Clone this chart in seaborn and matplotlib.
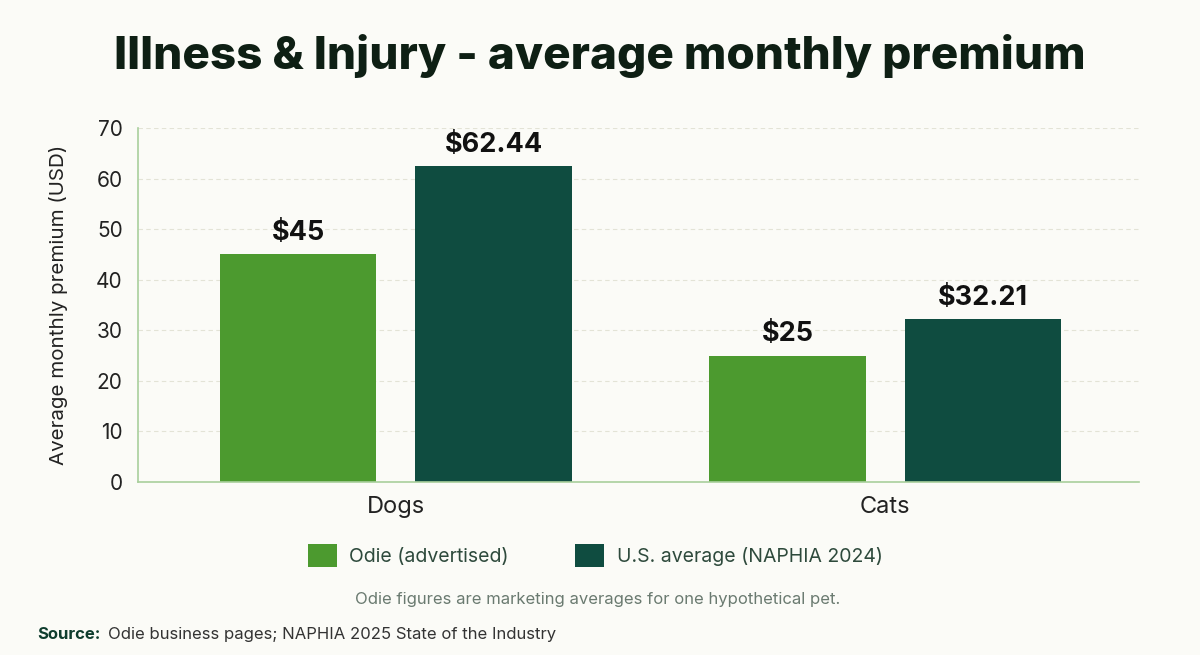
import matplotlib
matplotlib.use("Agg")
import matplotlib.pyplot as plt
import seaborn as sns
import pandas as pd

categories = ["Dogs", "Cats"]
series_names = ["Odie (advertised)", "U.S. average (NAPHIA 2024)"]
odie_values = [45, 25]
us_values = [62.44, 32.21]
y_ticks = [0, 10, 20, 30, 40, 50, 60, 70]

colors = ["#4C9A2F", "#0F4C40"]
bg = "#FBFBF7"

df = pd.DataFrame({
    "category": categories * 2,
    "series": [series_names[0]] * 2 + [series_names[1]] * 2,
    "value": odie_values + us_values,
})

sns.set_theme(style="white")
plt.rcParams["font.family"] = ["Inter", "DejaVu Sans"]

fig = plt.figure(figsize=(12, 6.55), dpi=100, facecolor=bg)
ax = fig.add_axes([0.115, 0.2641, 0.834, 0.5405], facecolor=bg)

sns.barplot(data=df, x="category", y="value", hue="series", order=categories,
            hue_order=series_names, palette=colors, gap=0.2, width=0.8,
            saturation=1, ax=ax, legend=True, edgecolor="none")

ax.set_ylim(0, 70)
ax.set_xlim(-0.527, 1.518)
ax.set_yticks(y_ticks)
ax.yaxis.grid(True, color="#E3E3D6", linestyle=(0, (4, 3)), linewidth=0.8)
ax.set_axisbelow(True)
for s in ["top", "right"]:
    ax.spines[s].set_visible(False)
for s in ["left", "bottom"]:
    ax.spines[s].set_color("#A9CF9C")
    ax.spines[s].set_linewidth(1.2)
ax.tick_params(axis="y", length=5, color="#E3E3D6", labelsize=15, labelcolor="#222222", pad=6)
ax.tick_params(axis="x", length=0, labelsize=17, labelcolor="#222222", pad=10)
ax.set_xlabel("")
ax.set_ylabel("Average monthly premium (USD)", fontsize=14.8, color="#222222", labelpad=20)

for cont in ax.containers:
    labels = [f"${v:g}" for v in cont.datavalues]
    ax.bar_label(cont, labels=labels, padding=6, fontsize=19.5, fontweight="bold", color="#111111")

handles, labs = ax.get_legend_handles_labels()
ax.get_legend().remove()
fig.legend(handles, labs, loc="center", bbox_to_anchor=(0.496, 0.152), ncol=2,
           frameon=False, fontsize=14, handlelength=1.5, handleheight=1.5,
           columnspacing=3.4, handletextpad=0.65, labelcolor="#2E4A3C")

fig.text(0.5, 0.915, "Illness & Injury - average monthly premium", ha="center", va="center",
         fontsize=33, fontweight="heavy", color="#0E1F14")
fig.text(0.498, 0.084, "Odie figures are marketing averages for one hypothetical pet.",
         ha="center", va="center", fontsize=12, color="#6A7A70")
src = fig.text(0.031, 0.031, "Source:", ha="left", va="center", fontsize=12,
               fontweight="bold", color="#0F3D2E")
ax.annotate("Odie business pages; NAPHIA 2025 State of the Industry",
            xy=(1, 0.5), xycoords=src, xytext=(5, 0), textcoords="offset points",
            ha="left", va="center", fontsize=12, color="#333333", annotation_clip=False)

fig.savefig("out.png", dpi=100, facecolor=bg)
